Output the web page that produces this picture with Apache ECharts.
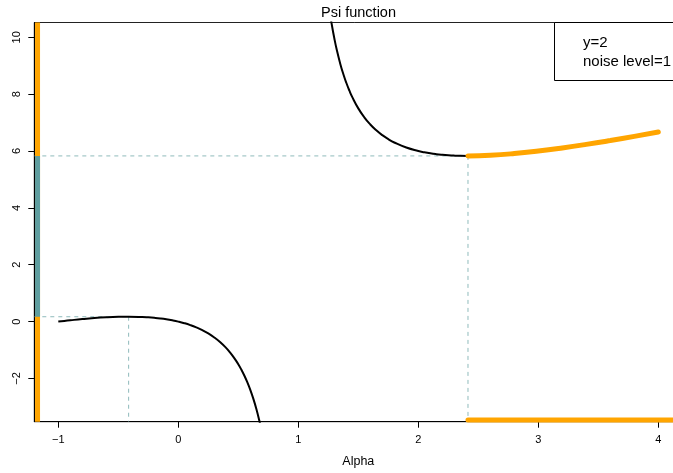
<!DOCTYPE html>
<html>
<head>
<meta charset="utf-8">
<script src="https://cdn.jsdelivr.net/npm/echarts@6/dist/echarts.min.js"></script>
<style>
  html, body { margin: 0; padding: 0; background: #fff; }
  #chart { width: 673px; height: 473px; }
</style>
</head>
<body>
<div id="chart"></div>
<script>
// Psi function branches, y = 2, noise level = 1
const alphaLow = [-1, -0.95, -0.9, -0.8, -0.7, -0.6, -0.5, -0.414, -0.3, -0.25, -0.2, -0.15, -0.1, -0.05, 0, 0.05, 0.1, 0.15, 0.2, 0.25, 0.3, 0.35, 0.4, 0.425, 0.45, 0.475, 0.5, 0.525, 0.55, 0.575, 0.6, 0.625, 0.65, 0.675, 0.69, 0.7, 0.71, 0.72];
const psiLow = [0, 0.024, 0.047, 0.089, 0.124, 0.15, 0.167, 0.172, 0.162, 0.15, 0.133, 0.111, 0.082, 0.045, 0, -0.055, -0.122, -0.203, -0.3, -0.417, -0.557, -0.727, -0.933, -1.053, -1.186, -1.335, -1.5, -1.686, -1.894, -2.131, -2.4, -2.708, -3.064, -3.479, -3.762, -3.967, -4.187, -4.423];

const alphaHigh = [1.24, 1.26, 1.28, 1.3, 1.32, 1.35, 1.375, 1.4, 1.425, 1.45, 1.5, 1.55, 1.6, 1.65, 1.7, 1.75, 1.8, 1.9, 2.0, 2.05, 2.1, 2.15, 2.2, 2.25, 2.3, 2.35, 2.414];
const psiHigh = [11.573, 10.952, 10.423, 9.967, 9.57, 9.064, 8.708, 8.4, 8.131, 7.894, 7.5, 7.186, 6.933, 6.727, 6.557, 6.417, 6.3, 6.122, 6, 5.955, 5.918, 5.889, 5.867, 5.85, 5.838, 5.831, 5.828];

// highlighted part of the upper branch
const alphaSel = [2.414, 2.6, 2.8, 3.0, 3.2, 3.4, 3.6, 3.8, 4.0];
const psiSel = [5.828, 5.85, 5.911, 6, 6.109, 6.233, 6.369, 6.514, 6.667];

// local max of the lower branch and local min of the upper branch
const peakLow = [-0.414, 0.172];
const troughHigh = [2.414, 5.828];

// axis ranges and ticks
const xRange = [-1.2, 4.2];
const yRange = [-3.52, 10.52];
const xTicks = [-1, 0, 1, 2, 3, 4];
const yTicks = [-2, 0, 2, 4, 6, 8, 10];

// rails along the axes
const railX = -1.173;
const railY = -3.46;

const legendLines = ['y=2', 'noise level=1'];

const zip = (xs, ys) => xs.map((x, i) => [x, ys[i]]);

const FONT = 'Liberation Sans, Arial, Helvetica, sans-serif';
const ORANGE = '#FFA500';
const CADET = '#5F9EA0';
const DASH = 'rgba(95,158,160,0.7)';

const chart = echarts.init(document.getElementById('chart'), null, { renderer: 'canvas' });

const dashed = (pts) => ({
  type: 'line', data: pts, symbol: 'none', silent: true, animation: false,
  lineStyle: { color: DASH, width: 1, type: [4, 4] }, z: 1
});

chart.setOption({
  animation: false,
  title: {
    text: 'Psi function', left: 358.5, top: 5, textAlign: 'center', padding: 0,
    textStyle: { fontFamily: FONT, fontSize: 14.5, fontWeight: 'normal', color: '#000' }
  },
  grid: {
    left: 34.3, top: 22.5, right: -9.3, bottom: 51.3,
    show: true, borderColor: '#222', borderWidth: 1, backgroundColor: 'transparent',
    containLabel: false, outerBoundsMode: 'none'
  },
  xAxis: {
    type: 'value', min: xRange[0], max: xRange[1],
    name: 'Alpha', nameLocation: 'middle', nameGap: 33,
    nameTextStyle: { fontFamily: FONT, fontSize: 12.5, color: '#000' },
    axisLine: { show: true, onZero: false, lineStyle: { color: '#000', width: 1 } },
    axisTick: { show: true, inside: false, length: 6, customValues: xTicks, lineStyle: { color: '#000' } },
    axisLabel: { customValues: xTicks, margin: 13, fontFamily: FONT, fontSize: 11, color: '#000',
      formatter: v => (v < 0 ? '\u2212' + Math.abs(v) : String(v)) },
    splitLine: { show: false }
  },
  yAxis: {
    type: 'value', min: yRange[0], max: yRange[1],
    axisLine: { show: true, onZero: false, lineStyle: { color: '#000', width: 1 } },
    axisTick: { show: true, inside: false, length: 6, customValues: yTicks, lineStyle: { color: '#000' } },
    axisLabel: { customValues: yTicks, rotate: 90, margin: 12, fontFamily: FONT, fontSize: 11, color: '#000',
      formatter: v => (v < 0 ? '\u2212' + Math.abs(v) : String(v)) },
    splitLine: { show: false }
  },
  series: [
    dashed([[xRange[0], troughHigh[1]], troughHigh]),
    dashed([troughHigh, [troughHigh[0], yRange[0]]]),
    dashed([[xRange[0], peakLow[1]], peakLow]),
    dashed([peakLow, [peakLow[0], yRange[0]]]),
    {
      type: 'line', data: zip(alphaLow, psiLow), symbol: 'none', smooth: 0.5,
      lineStyle: { color: '#000', width: 2, join: 'round' }, z: 2
    },
    {
      type: 'line', data: zip(alphaHigh, psiHigh), symbol: 'none', smooth: 0.5,
      lineStyle: { color: '#000', width: 2, join: 'round' }, z: 2
    },
    {
      type: 'line', data: zip(alphaSel, psiSel), symbol: 'none', smooth: 0.5,
      lineStyle: { color: ORANGE, width: 5, cap: 'round' }, z: 3
    },
    {
      type: 'line', data: [[troughHigh[0], railY], [xRange[1] + 0.2, railY]], symbol: 'none',
      lineStyle: { color: ORANGE, width: 5, cap: 'round' }, z: 3
    },
    {
      type: 'line', data: [[railX, yRange[0]], [railX, yRange[1]]], symbol: 'none',
      lineStyle: { color: ORANGE, width: 5, cap: 'butt' }, z: 3
    },
    {
      type: 'line', data: [[railX, peakLow[1]], [railX, troughHigh[1]]], symbol: 'none',
      lineStyle: { color: CADET, width: 5, cap: 'butt' }, z: 4
    }
  ],
  graphic: [
    {
      type: 'rect', shape: { x: 554.5, y: 22.5, width: 200, height: 58 },
      style: { fill: '#fff', stroke: '#000', lineWidth: 1 }, z: 100
    },
    {
      type: 'text', x: 583, y: 42.5, z: 101,
      style: { text: legendLines[0], font: '15px ' + FONT, fill: '#000', verticalAlign: 'middle' }
    },
    {
      type: 'text', x: 583, y: 61.5, z: 101,
      style: { text: legendLines[1], font: '15px ' + FONT, fill: '#000', verticalAlign: 'middle' }
    }
  ]
});
</script>
</body>
</html>
